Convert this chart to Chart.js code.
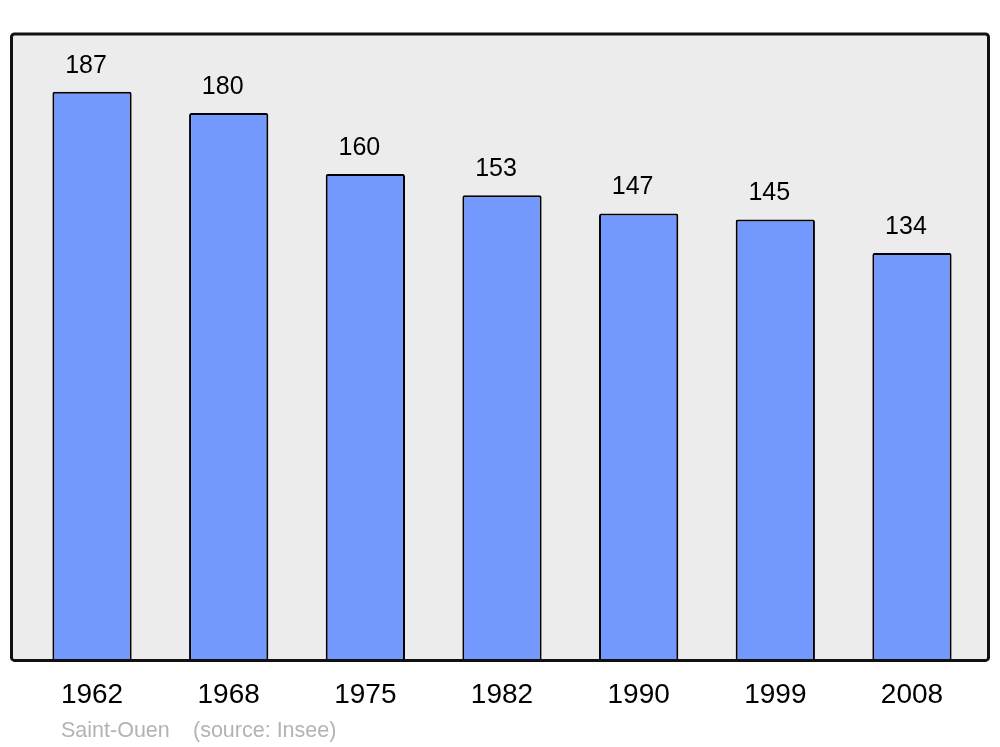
<!DOCTYPE html>
<html>
<head>
<meta charset="utf-8">
<script src="https://cdn.jsdelivr.net/npm/chart.js@4/dist/chart.umd.min.js"></script>
<style>
  html, body { margin: 0; padding: 0; background: #fff; }
  #wrap { width: 1000px; height: 747px; }
</style>
</head>
<body>
<div id="wrap"><canvas id="chart" width="1000" height="747"></canvas></div>
<script>
// Données (population, Saint-Ouen)
const years = ['1962', '1968', '1975', '1982', '1990', '1999', '2008'];
const population = [187, 180, 160, 153, 147, 145, 134];
const commune = 'Saint-Ouen';
const source = '(source: Insee)';

// Cadre gris avec bord noir
const framePlugin = {
  id: 'frame',
  beforeDraw(chart) {
    const ctx = chart.ctx;
    const a = chart.chartArea;
    ctx.save();
    ctx.beginPath();
    ctx.roundRect(11.5, a.top, 977, a.bottom - a.top, 3);
    ctx.fillStyle = '#ececec';
    ctx.fill();
    ctx.restore();
  },
  afterDatasetsDraw(chart) {
    const ctx = chart.ctx;
    const a = chart.chartArea;
    ctx.save();
    ctx.beginPath();
    ctx.roundRect(11.5, a.top, 977, a.bottom - a.top, 3);
    ctx.lineWidth = 3;
    ctx.strokeStyle = '#111';
    ctx.stroke();

    // valeurs au-dessus des barres
    const meta = chart.getDatasetMeta(0);
    ctx.font = '25px "Liberation Sans", Arial, sans-serif';
    ctx.fillStyle = '#000';
    ctx.textAlign = 'center';
    ctx.textBaseline = 'alphabetic';
    meta.data.forEach((bar, i) => {
      ctx.fillText(String(population[i]), bar.x - 6, bar.y - 19);
    });

    // source
    ctx.font = '21.5px "Liberation Sans", Arial, sans-serif';
    ctx.fillStyle = '#b3b3b3';
    ctx.textAlign = 'left';
    ctx.fillText(commune, 61, 737);
    ctx.fillText(source, 193, 737);
    ctx.restore();
  }
};

new Chart(document.getElementById('chart'), {
  type: 'bar',
  data: {
    labels: years,
    datasets: [{
      data: population,
      backgroundColor: '#7399ff',
      borderColor: '#000',
      borderWidth: 2,
      borderSkipped: 'bottom',
      borderRadius: { topLeft: 2, topRight: 2 },
      categoryPercentage: 1,
      barPercentage: 0.58
    }]
  },
  options: {
    responsive: false,
    animation: false,
    layout: { padding: { left: 23.7, right: 19.7, top: 34, bottom: 17 } },
    plugins: {
      legend: { display: false },
      tooltip: { enabled: false }
    },
    scales: {
      x: {
        grid: { display: false, drawTicks: false, tickLength: 0 },
        border: { display: false },
        ticks: {
          color: '#000',
          padding: 18,
          font: { family: '"Liberation Sans", Arial, sans-serif', size: 28 }
        }
      },
      y: {
        display: false,
        min: 0,
        max: 206
      }
    }
  },
  plugins: [framePlugin]
});
</script>
</body>
</html>
